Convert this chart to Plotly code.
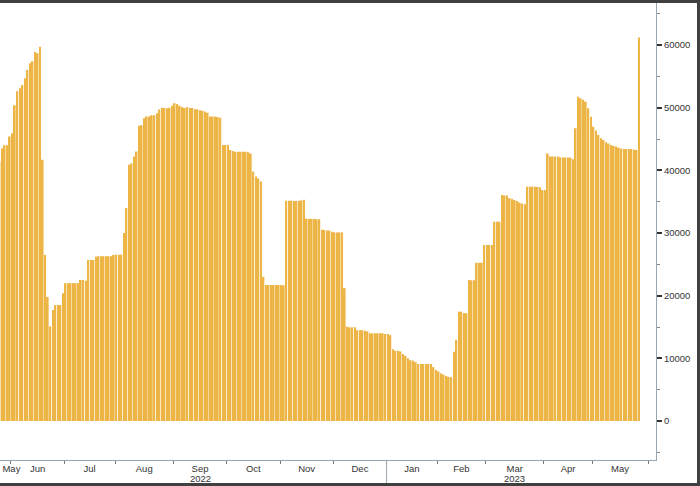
import pandas as pd
import plotly.graph_objects as go

# Trading sessions (NYSE holidays skipped), one bar per session.
HOLIDAYS = ["2022-05-30", "2022-06-20", "2022-07-04", "2022-09-05", "2022-11-24",
            "2022-12-26", "2023-01-02", "2023-01-16", "2023-02-20", "2023-04-07",
            "2023-05-29"]
START, END = "2022-05-24", "2023-06-09"

# Daily values, one list per month.
may_2022 = [41400, 43500, 44000, 44000, 45400]
jun_2022 = [45900, 50400, 52600, 53100, 53600, 54700, 56000, 57100, 57400, 58900, 58700,
            59700, 41700, 26500, 19800, 15100, 17700, 18500, 18500, 18500, 20400]
jul_2022 = [22000, 22000, 22000, 22000, 22000, 22000, 22500, 22500, 22400, 25700,
            25700, 25700, 26200, 26300, 26300, 26300, 26300, 26300, 26300, 26500]
aug_2022 = [26550, 26550, 26550, 30000, 34000, 40900, 41100, 42200, 43000, 47100, 47200,
            48300, 48600, 48600, 48800, 48800, 49100, 49700, 50000, 49950, 49900, 50000, 50300]
sep_2022 = [50700, 50600, 50300, 50100, 49950, 50100, 49950, 49950, 49750, 49750, 49600,
            49500, 49400, 49200, 48600, 48600, 48600, 48500, 48400, 44050, 44050]
oct_2022 = [44050, 43250, 43100, 42950, 42950, 42950, 42950, 42950, 42900, 42700, 39800,
            39000, 38700, 38200, 23000, 21700, 21700, 21700, 21700, 21700, 21700]
nov_2022 = [21700, 21650, 35150, 35150, 35150, 35100, 35100, 35150, 35200, 35300, 32300,
            32250, 32250, 32250, 32200, 32200, 30500, 30500, 30400, 30400, 30200]
dec_2022 = [30100, 30100, 30100, 30100, 21200, 15050, 14950, 14950, 14950, 14500, 14500,
            14500, 14400, 14300, 14000, 14000, 14000, 14000, 14000, 14000, 13900]
jan_2023 = [13900, 13700, 11450, 11200, 11200, 11100, 10700, 10400, 10000, 9700,
            9650, 9400, 9100, 9100, 9100, 9100, 9100, 9100, 8600, 8150]
feb_2023 = [7900, 7600, 7400, 7200, 7050, 7000, 11050, 12950, 17450, 17450,
            17200, 17200, 22500, 22450, 22450, 25250, 25250, 25250, 28100]
mar_2023 = [28100, 28100, 28100, 31800, 31800, 31800, 36050, 36000, 36000, 35550, 35450,
            35250, 35100, 34850, 34700, 34600, 37400, 37400, 37400, 37400, 37350, 37300, 36850]
apr_2023 = [36850, 42700, 42200, 42200, 42200, 42200, 42100, 42050, 42050, 42050,
            42000, 41750, 46700, 51750, 51500, 51250, 50950, 49900, 48550]
may_2023 = [46950, 46350, 45650, 45100, 44850, 44500, 44300, 44050, 43900, 43800,
            43600, 43500, 43400, 43400, 43400, 43400, 43300, 43250, 61200]

MONTH_NAMES = ["Jan", "Feb", "Mar", "Apr", "May", "Jun",
               "Jul", "Aug", "Sep", "Oct", "Nov", "Dec"]
YEAR_UNDER = {(2022, 9): "2022", (2023, 3): "2023"}   # year printed under these months

Y_TICKS = [0, 10000, 20000, 30000, 40000, 50000, 60000]

values = (may_2022 + jun_2022 + jul_2022 + aug_2022 + sep_2022 + oct_2022 + nov_2022
          + dec_2022 + jan_2023 + feb_2023 + mar_2023 + apr_2023 + may_2023)

sessions = pd.bdate_range(START, END, freq="C", holidays=HOLIDAYS)
xs = list(range(len(values)))

X_LO, X_HI = 0.17, 258.65

# month boundaries (tick marks) and label positions
bounds, labels_at, labels_txt, years = [], [], [], []
month_idx = {}
for i, d in enumerate(sessions):
    month_idx.setdefault((d.year, d.month), []).append(i)
    if i and d.month != sessions[i - 1].month:
        bounds.append(i - 0.5)
for (yr, mo), idx in month_idx.items():
    lo, hi = max(idx[0], X_LO), min(idx[-1], X_HI)
    if lo > hi:
        continue
    mid = max((lo + hi) / 2, X_LO + 4.5)
    if mid > X_HI - 4:      # sliver of a month at the right edge: no label
        continue
    labels_at.append(mid)
    labels_txt.append(MONTH_NAMES[mo - 1])
    if (yr, mo) in YEAR_UNDER:
        years.append((mid, YEAR_UNDER[(yr, mo)]))
year_break = [b for b in bounds if sessions[int(b + 0.5)].month == 1][0]

fig = go.Figure(go.Bar(
    x=xs, y=values, marker=dict(color="#EDB545", line=dict(width=0)),
    hoverinfo="skip",
))

AXIS = "#9aa6b2"
TXT = "#333333"
fig.update_xaxes(
    range=[X_LO, X_HI], showgrid=False, zeroline=False,
    showline=True, linecolor=AXIS, linewidth=1,
    tickmode="array", tickvals=labels_at, ticktext=labels_txt, ticks="", ticklen=0,
    tickfont=dict(size=9.5, color=TXT),
    minor=dict(tickmode="array", tickvals=bounds, ticks="outside",
               ticklen=3, tickcolor="#777777", tickwidth=1, showgrid=False),
)
fig.update_yaxes(
    side="right", range=[-6220, 66700], showgrid=False, zeroline=False,
    showline=True, linecolor=AXIS, linewidth=1,
    tickmode="array", tickvals=Y_TICKS, tickformat="d",
    ticks="outside", ticklen=5, tickwidth=2, tickcolor=TXT,
    tickfont=dict(size=9.5, color=TXT),
    minor=dict(dtick=5000, tick0=0, ticks="outside", ticklen=3,
               tickcolor="#8a8a8a", tickwidth=1, showgrid=False),
)

for x, yr in years:
    fig.add_annotation(x=x, xref="x", y=-0.0405, yref="paper", text=yr,
                       showarrow=False, yanchor="middle",
                       font=dict(size=9.5, color=TXT))

FRAME = "#404040"
fig.add_shape(type="line", xref="x", yref="paper", x0=year_break, x1=year_break,
              y0=0, y1=-0.053, line=dict(color=AXIS, width=1))
# dark frame round the chart (top, bottom, right)
fig.add_shape(type="rect", xref="paper", yref="paper", x0=-0.02, x1=1.0648,
              y0=-0.0536, y1=1.0033, line=dict(color=FRAME, width=3),
              fillcolor="rgba(0,0,0,0)", layer="above")

fig.update_layout(
    width=700, height=486, autosize=False,
    margin=dict(l=0, r=44, t=3, b=26),
    paper_bgcolor="white", plot_bgcolor="white",
    bargap=0.33, showlegend=False,
    font=dict(family="Liberation Sans, Arial, sans-serif"),
)

# drop the page's default body margin so the 700x486 figure fills the window
fig.write_html("out.html", config={"displayModeBar": False},
               post_script="document.body.style.margin='0';")
